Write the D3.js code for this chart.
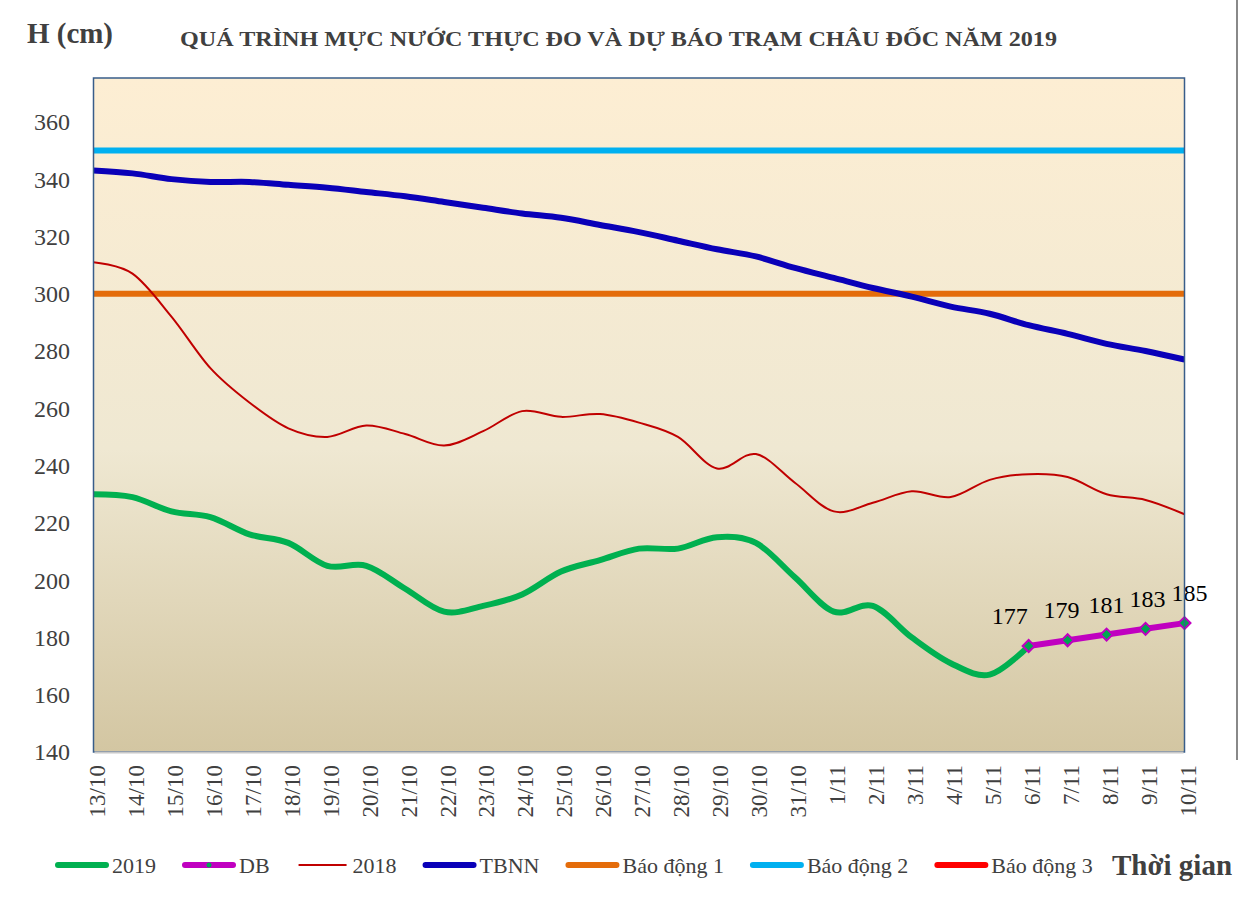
<!DOCTYPE html>
<html>
<head>
<meta charset="utf-8">
<script src="https://cdn.jsdelivr.net/npm/d3@7"></script>
<style>
  body { margin: 0; background: #fff; }
  svg text { font-family: 'Liberation Serif', 'DejaVu Serif', serif; }
</style>
</head>
<body>
<div id="chart"></div>
<script>
// categories (days)
const dates = ["13/10","14/10","15/10","16/10","17/10","18/10","19/10","20/10","21/10","22/10",
  "23/10","24/10","25/10","26/10","27/10","28/10","29/10","30/10","31/10","1/11",
  "2/11","3/11","4/11","5/11","6/11","7/11","8/11","9/11","10/11"];

// observed water level 2019 (cm), up to 6/11
const h2019 = [230,229,224,222,216,213,205,205,197,189,191,195,203,207,211,211,215,213,201,189,191,180,171,167,177];

// forecast (DB) from 6/11
const dbDates = ["6/11","7/11","8/11","9/11","10/11"];
const hDB = [177,179,181,183,185];

// same period 2018
const h2018 = [311,307,292,274,262,253,250,254,251,247,252,259,257,258,255,250,239,244,234,224,227,231,229,235,237,236,230,228,223];

// long-term average (TBNN)
const hTBNN = [343,342,340,339,339,338,337,335.5,334,332,330,328,326.5,324,321.5,318.5,315.5,313,309,305.5,302,299,295.5,293,289,286,282.5,280,277];

// alarm levels
const alarmNames = ["Báo động 1","Báo động 2","Báo động 3"];
const alarmLevels = [300, 350, 400];

const yTicks = [140,160,180,200,220,240,260,280,300,320,340,360];

const serif = "'Liberation Serif', 'DejaVu Serif', serif";

let cfg = {
  w: 1240, h: 922,
  left: 93.5, right: 1184.5, top: 78, bottom: 752,
  textColor: "#404040",
  c2019: "#00B050",
  cDB: "#C000C0",
  c2018: "#C00000",
  cTBNN: "#0A00B8",
  alarmColors: ["#E46C0A", "#00B0F0", "#FF0000"]
};

let svg = d3.select("#chart").append("svg")
  .attr("width", cfg.w)
  .attr("height", cfg.h)
  .attr("font-family", serif);

let defs = svg.append("defs");
let grad = defs.append("linearGradient").attr("id", "bg")
  .attr("x1", 0).attr("y1", 0).attr("x2", 0).attr("y2", 1);
grad.append("stop").attr("offset", "0%").attr("stop-color", "#FDEED3");
grad.append("stop").attr("offset", "55%").attr("stop-color", "#EFE8D2");
grad.append("stop").attr("offset", "100%").attr("stop-color", "#D3C6A2");

defs.append("clipPath").attr("id", "plotClip")
  .append("rect")
  .attr("x", cfg.left).attr("y", cfg.top)
  .attr("width", cfg.right - cfg.left).attr("height", cfg.bottom - cfg.top);

let x = d3.scalePoint().domain(dates).range([cfg.left, cfg.right]).padding(0);
let y = d3.scaleLinear().domain([140, 375.3]).range([cfg.bottom, cfg.top]);

// plot background
svg.append("rect")
  .attr("x", cfg.left).attr("y", cfg.top)
  .attr("width", cfg.right - cfg.left).attr("height", cfg.bottom - cfg.top)
  .style("fill", "url(#bg)");

// frame line at the right edge of the picture
svg.append("line")
  .attr("x1", 1237).attr("x2", 1237).attr("y1", 0).attr("y2", 760)
  .style("stroke", "#3a3a3a").style("stroke-width", 1.2);

// titles
svg.append("text")
  .attr("x", 27).attr("y", 43)
  .attr("textLength", 86).attr("lengthAdjust", "spacingAndGlyphs")
  .style("font-size", "30px").style("font-weight", "bold")
  .style("fill", cfg.textColor)
  .text("H (cm)");

svg.append("text")
  .attr("x", 180).attr("y", 46)
  .attr("textLength", 877).attr("lengthAdjust", "spacingAndGlyphs")
  .style("font-size", "20px").style("font-weight", "bold")
  .style("fill", cfg.textColor)
  .text("QUÁ TRÌNH MỰC NƯỚC THỰC ĐO VÀ DỰ BÁO TRẠM  CHÂU ĐỐC NĂM  2019");

// y axis labels
let yAxis = d3.axisLeft(y).tickValues(yTicks).tickSize(0).tickPadding(0);
let gy = svg.append("g").attr("transform", "translate(70,0)").call(yAxis)
  .attr("font-family", serif);
gy.select(".domain").remove();
gy.selectAll("text")
  .style("font-family", serif)
  .style("font-size", "24px")
  .style("fill", cfg.textColor)
  .attr("dy", "0.33em");

// x axis labels (rotated)
let xAxis = d3.axisBottom(x).tickSize(0).tickPadding(0);
let gx = svg.append("g").attr("transform", "translate(3,765)").call(xAxis)
  .attr("font-family", serif);
gx.select(".domain").remove();
gx.selectAll("text")
  .style("font-family", serif)
  .style("font-size", "23px")
  .style("fill", cfg.textColor)
  .attr("text-anchor", "end")
  .attr("transform", "rotate(-90)")
  .attr("x", 0).attr("y", 0)
  .attr("dy", "0.34em");

let plot = svg.append("g").attr("clip-path", "url(#plotClip)");

// alarm lines
plot.selectAll(".alarm")
  .data(alarmLevels)
  .enter().append("line")
  .attr("class", "alarm")
  .attr("x1", cfg.left).attr("x2", cfg.right)
  .attr("y1", d => y(d)).attr("y2", d => y(d))
  .style("stroke", (d, i) => cfg.alarmColors[i])
  .style("stroke-width", 6);

let smooth = d3.line()
  .x((d, i) => x(dates[i]))
  .y(d => y(d))
  .curve(d3.curveCatmullRom.alpha(0));

plot.append("path").datum(hTBNN)
  .attr("d", smooth)
  .style("fill", "none").style("stroke", cfg.cTBNN).style("stroke-width", 6);

plot.append("path").datum(h2018)
  .attr("d", smooth)
  .style("fill", "none").style("stroke", cfg.c2018).style("stroke-width", 2);

plot.append("path").datum(h2019)
  .attr("d", smooth)
  .style("fill", "none").style("stroke", cfg.c2019).style("stroke-width", 6);

// forecast line
let dbLine = d3.line()
  .x((d, i) => x(dbDates[i]))
  .y(d => y(d));

svg.append("path").datum(hDB)
  .attr("d", dbLine)
  .style("fill", "none").style("stroke", cfg.cDB).style("stroke-width", 6)
  .style("stroke-linecap", "round");

// diamond markers: a square turned 45 degrees
let marker = d3.symbol().type(d3.symbolSquare).size(72);
svg.selectAll(".dbMark")
  .data(hDB)
  .enter().append("path")
  .attr("class", "dbMark")
  .attr("d", marker)
  .attr("transform", (d, i) => "translate(" + x(dbDates[i]) + "," + y(d) + ") rotate(45)")
  .style("fill", "#00A651")
  .style("stroke", cfg.cDB)
  .style("stroke-width", 2);

// data labels, nudged like the original
const dbLabelDx = [-19, -6, 0, 2, 5];
svg.selectAll(".dbLabel")
  .data(hDB)
  .enter().append("text")
  .attr("class", "dbLabel")
  .attr("x", (d, i) => x(dbDates[i]) + dbLabelDx[i])
  .attr("y", d => y(d) - 22)
  .attr("text-anchor", "middle")
  .style("font-family", serif)
  .style("font-size", "24px")
  .style("fill", "#000")
  .text(d => d);

// plot frame
svg.append("rect")
  .attr("x", cfg.left).attr("y", cfg.top)
  .attr("width", cfg.right - cfg.left).attr("height", cfg.bottom - cfg.top)
  .style("fill", "none").style("stroke", "#385D8A").style("stroke-width", 1.5);
svg.append("line")
  .attr("x1", cfg.left + 1).attr("x2", cfg.right - 1)
  .attr("y1", cfg.bottom + 0.5).attr("y2", cfg.bottom + 0.5)
  .style("stroke", "#C8C8C8").style("stroke-width", 2);

// legend
const legendNames = ["2019", "DB", "2018", "TBNN"].concat(alarmNames);
const legendColors = [cfg.c2019, cfg.cDB, cfg.c2018, cfg.cTBNN].concat(cfg.alarmColors);
const legendWidths = [6, 6, 2, 6, 6, 6, 6];

let legend = svg.append("g").attr("class", "legend");
let lx = 55, ly = 865;
legendNames.forEach(function(name, i) {
  legend.append("line")
    .attr("x1", lx + 3).attr("x2", lx + 51)
    .attr("y1", ly).attr("y2", ly)
    .style("stroke", legendColors[i])
    .style("stroke-width", legendWidths[i])
    .style("stroke-linecap", legendWidths[i] > 2 ? "round" : "butt");
  if (name === "DB") {
    legend.append("circle")
      .attr("cx", lx + 27).attr("cy", ly).attr("r", 2.5)
      .style("fill", "#00A651");
  }
  let t = legend.append("text")
    .attr("x", lx + 57).attr("y", ly + 8)
    .style("font-family", serif)
    .style("font-size", "22px")
    .style("fill", cfg.textColor)
    .text(name);
  lx = lx + 57 + t.node().getComputedTextLength() + 26;
});

svg.append("text")
  .attr("x", 1112).attr("y", 875)
  .style("font-family", serif)
  .style("font-size", "29px").style("font-weight", "bold")
  .style("fill", cfg.textColor)
  .text("Thời gian");
</script>
</body>
</html>
